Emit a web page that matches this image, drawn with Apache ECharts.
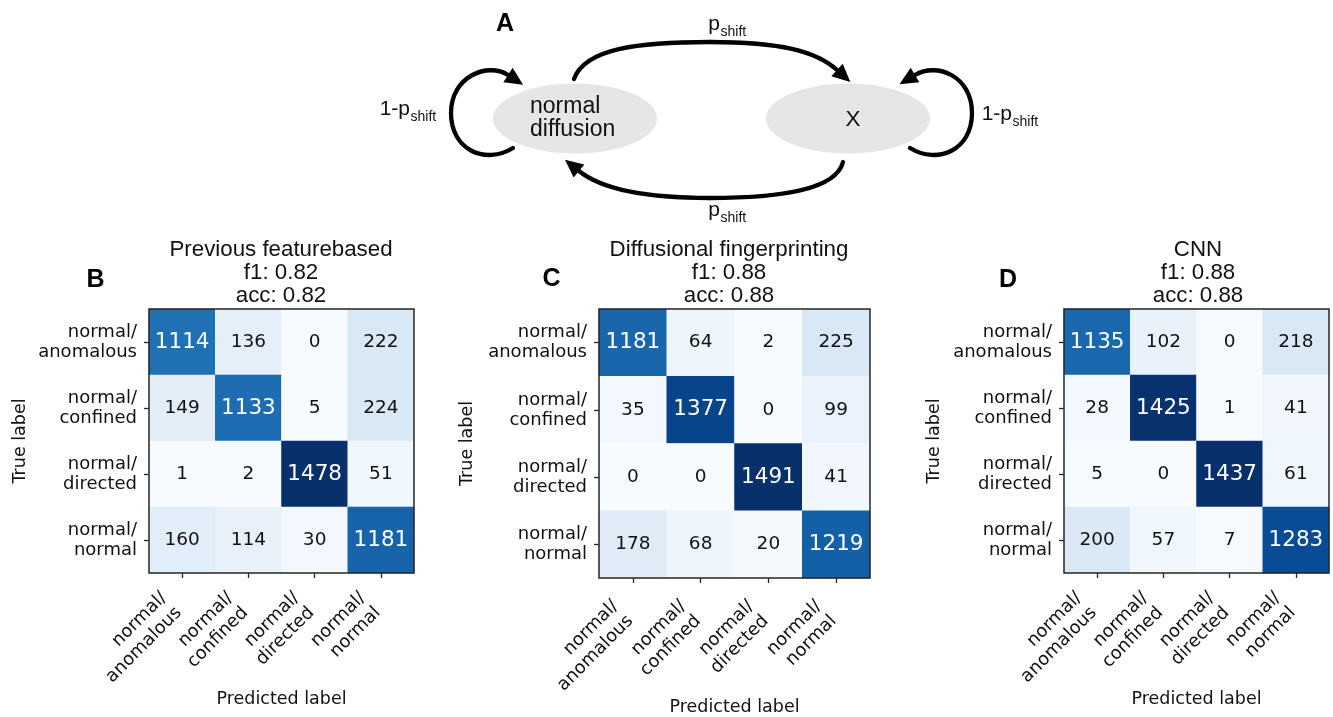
<!DOCTYPE html>
<html>
<head>
<meta charset="utf-8">
<title>Confusion matrices</title>
<script src="https://cdn.jsdelivr.net/npm/echarts@6/dist/echarts.min.js"></script>
<style>
  html, body { margin: 0; padding: 0; background: #fff; }
  #chart { width: 1333px; height: 717px; }
</style>
</head>
<body>
<div id="chart"></div>
<script>
// Class labels shared by both axes (true label rows, predicted label columns)
const classLabels = ['normal/\nanomalous', 'normal/\nconfined', 'normal/\ndirected', 'normal/\nnormal'];

// Model names and scores shown above each matrix
const modelNames = ['Previous featurebased', 'Diffusional fingerprinting', 'CNN'];
const f1Scores = ['0.82', '0.88', '0.88'];
const accScores = ['0.82', '0.88', '0.88'];
const panelLetters = ['B', 'C', 'D'];

// Confusion matrices: rows = true label, columns = predicted label
const matrixFeatureBased = [
  [1114, 136, 0, 222],
  [149, 1133, 5, 224],
  [1, 2, 1478, 51],
  [160, 114, 30, 1181]
];
const matrixFingerprinting = [
  [1181, 64, 2, 225],
  [35, 1377, 0, 99],
  [0, 0, 1491, 41],
  [178, 68, 20, 1219]
];
const matrixCNN = [
  [1135, 102, 0, 218],
  [28, 1425, 1, 41],
  [5, 0, 1437, 61],
  [200, 57, 7, 1283]
];
const matrices = [matrixFeatureBased, matrixFingerprinting, matrixCNN];

// Matplotlib "Blues" colormap stops
const blues = ['#f7fbff', '#deebf7', '#c6dbef', '#9ecae1', '#6baed6', '#4292c6', '#2171b5', '#08519c', '#08306b'];

const SANS = 'DejaVu Sans';
const ARIAL = 'Liberation Sans';
const INK = '#111';

// Layout of the three matrix panels
const panels = [
  { grid: { left: 149, top: 309, width: 265, height: 264 }, titleX: 281, letter: [95.5, 280.5],
    xMargin: 19, xPad: 15, xNameGap: 114, yNameGap: 120 },
  { grid: { left: 599, top: 309, width: 271, height: 269 }, titleX: 729, letter: [551.5, 279],
    xMargin: 23, xPad: 14, xNameGap: 119, yNameGap: 123 },
  { grid: { left: 1064, top: 309, width: 265, height: 264 }, titleX: 1198, letter: [1008, 280.5],
    xMargin: 19, xPad: 15, xNameGap: 114, yNameGap: 121 }
];

const grids = [], xAxes = [], yAxes = [], series = [], visualMaps = [], titles = [];

panels.forEach((p, k) => {
  const m = matrices[k];
  const flat = m.flat();
  const vmin = Math.min(...flat), vmax = Math.max(...flat);
  const thresh = vmax / 2;

  grids.push(Object.assign({
    show: true, z: 5, backgroundColor: 'transparent',
    borderColor: '#262626', borderWidth: 1.5, containLabel: false, outerBoundsMode: 'none'
  }, p.grid));

  xAxes.push({
    type: 'category', gridIndex: k, data: classLabels, position: 'bottom',
    axisLine: { show: false },
    axisTick: { show: true, alignWithLabel: true, length: 5, lineStyle: { color: '#262626', width: 1.3 } },
    axisLabel: {
      rotate: 45, interval: 0, margin: p.xMargin, padding: [0, p.xPad, 0, 0],
      fontFamily: SANS, fontSize: 18, lineHeight: 21, color: INK
    },
    splitLine: { show: false },
    name: 'Predicted label', nameLocation: 'middle', nameGap: p.xNameGap,
    nameTextStyle: { fontFamily: SANS, fontSize: 17.5, color: INK }
  });

  yAxes.push({
    type: 'category', gridIndex: k, data: classLabels, inverse: true,
    axisLine: { show: false },
    axisTick: { show: true, alignWithLabel: true, length: 5, lineStyle: { color: '#262626', width: 1.3 } },
    axisLabel: {
      interval: 0, margin: 12, fontFamily: SANS, fontSize: 18, lineHeight: 20, color: INK,
      padding: [5, 0, 0, 0]
    },
    splitLine: { show: false },
    name: 'True label', nameLocation: 'middle', nameRotate: 90, nameGap: p.yNameGap,
    nameTextStyle: { fontFamily: SANS, fontSize: 17.5, color: INK }
  });

  const data = [];
  m.forEach((row, i) => row.forEach((v, j) => data.push([j, i, v])));

  series.push({
    type: 'heatmap', xAxisIndex: k, yAxisIndex: k, data: data,
    itemStyle: { borderWidth: 0 },
    emphasis: { disabled: true },
    label: {
      show: true,
      formatter: (d) => d.value[2] > thresh ? '{w|' + d.value[2] + '}' : '{k|' + d.value[2] + '}',
      rich: {
        w: { color: '#fff', fontFamily: SANS, fontSize: 21.5 },
        k: { color: INK, fontFamily: SANS, fontSize: 18.5 }
      }
    }
  });

  visualMaps.push({
    type: 'continuous', show: false, seriesIndex: k, dimension: 2,
    min: vmin, max: vmax, inRange: { color: blues }
  });

  titles.push({
    text: modelNames[k] + '\nf1: ' + f1Scores[k] + '\nacc: ' + accScores[k],
    left: p.titleX, top: 238, textAlign: 'center', padding: 0,
    textStyle: { fontFamily: ARIAL, fontSize: 22.3, lineHeight: 23.3, fontWeight: 'normal', color: INK }
  });
});

// ---- State diagram (panel A) ----
const STROKE = { stroke: '#000', lineWidth: 4.3, fill: null, lineCap: 'round' };

function curve(x1, y1, cpx1, cpy1, cpx2, cpy2, x2, y2) {
  return { type: 'bezierCurve', shape: { x1, y1, cpx1, cpy1, cpx2, cpy2, x2, y2 }, style: STROKE, z: 10 };
}
// Filled arrowhead continuing a curve that ends at (ex, ey) coming from (fx, fy)
function arrowHead(fx, fy, ex, ey) {
  const len = 18, half = 8.5;
  const dx = ex - fx, dy = ey - fy, n = Math.hypot(dx, dy);
  const ux = dx / n, uy = dy / n;
  const tip = [ex + ux * len, ey + uy * len];
  return {
    type: 'polygon', z: 11,
    shape: { points: [tip, [ex - uy * half, ey + ux * half], [ex + uy * half, ey - ux * half]] },
    style: { fill: '#000' }
  };
}
// Text placed by its alphabetic baseline
function textAt(x, baseline, str, fs, align, extra) {
  return {
    type: 'text', x: x, y: baseline - 0.3465 * fs, z: 12,
    style: Object.assign({ text: str, fontFamily: ARIAL, fontSize: fs, fill: INK, align: align, verticalAlign: 'middle' }, extra || {})
  };
}
function pShift(x, baseline, prefix) {
  const main = textAt(x, baseline, prefix + 'p', 21, 'right');
  const sub = textAt(x + 0.5, baseline + 6, 'shift', 14, 'left');
  return [main, sub];
}

const diagram = [
  { type: 'ellipse', shape: { cx: 575, cy: 118.5, rx: 82, ry: 35 }, style: { fill: '#e6e6e6' }, z: 9 },
  { type: 'ellipse', shape: { cx: 848, cy: 118.5, rx: 82, ry: 35 }, style: { fill: '#e6e6e6' }, z: 9 },
  {
    type: 'text', x: 530, y: 94.5, z: 12,
    style: { text: 'normal\ndiffusion', fontFamily: ARIAL, fontSize: 23, lineHeight: 23.5, fill: INK, align: 'left', verticalAlign: 'top' }
  },
  textAt(853, 127.5, 'X', 22.5, 'center'),

  // self loop on "normal diffusion"
  curve(513, 148, 485, 165, 451, 150, 451, 113),
  curve(451, 113, 451, 76, 488, 62, 508, 75),
  arrowHead(488, 62, 508, 75),
  // self loop on "X"
  curve(910, 148, 938, 165, 972, 150, 972, 113),
  curve(972, 113, 972, 76, 937, 62, 915, 75),
  arrowHead(937, 62, 915, 75),
  // normal diffusion -> X
  curve(574, 79, 585, 48, 640, 42, 710, 42),
  curve(710, 42, 780, 42, 816, 51, 837, 70),
  arrowHead(816, 51, 837, 70),
  // X -> normal diffusion
  curve(843, 162, 836, 190, 780, 198, 710, 198),
  curve(710, 198, 640, 198, 600, 188, 579, 171),
  arrowHead(600, 188, 579, 171),

  ...pShift(720, 31, ''),
  ...pShift(720, 217, ''),
  ...pShift(410, 116, '1-'),
  ...pShift(1012, 121, '1-'),

  { type: 'text', x: 505, y: 24, z: 12,
    style: { text: 'A', fontFamily: ARIAL, fontWeight: 'bold', fontSize: 25, fill: '#000', align: 'center', verticalAlign: 'middle' } }
];

panels.forEach((p, k) => {
  diagram.push({
    type: 'text', x: p.letter[0], y: p.letter[1], z: 12,
    style: { text: panelLetters[k], fontFamily: ARIAL, fontWeight: 'bold', fontSize: 25, fill: '#000', align: 'center', verticalAlign: 'middle' }
  });
});

const chart = echarts.init(document.getElementById('chart'), null, { renderer: 'canvas' });
chart.setOption({
  animation: false,
  backgroundColor: '#fff',
  title: titles,
  grid: grids,
  xAxis: xAxes,
  yAxis: yAxes,
  visualMap: visualMaps,
  series: series,
  graphic: { elements: diagram }
});
</script>
</body>
</html>
